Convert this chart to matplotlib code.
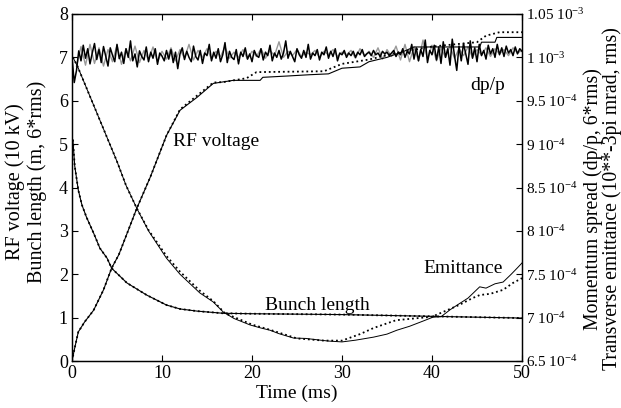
import numpy as np
import matplotlib
matplotlib.use('Agg')
import matplotlib.pyplot as plt

# --- data (left axis units; right axis = 6.5e-4 + 0.5e-4 * left) ---
rf_t = [0, 0.3, 0.7, 1.4, 2.4, 3.5, 4.4, 5.2, 7.2, 8.7, 10.5, 12, 13.9, 15.7, 17.9, 20.9, 21.2,
        23.9, 26.4, 28.5, 30, 32, 33, 35, 37, 38, 45.3, 45.5, 47, 47.2, 50]
rf_v = [0, 0.3, 0.67, 0.9, 1.17, 1.64, 2.14, 2.45, 3.52, 4.24, 5.2, 5.78, 6.08, 6.4, 6.47, 6.47, 6.54,
        6.57, 6.6, 6.62, 6.75, 6.78, 6.9, 7.0, 7.15, 7.24, 7.24, 7.35, 7.35, 7.46, 7.46]
rf2_t = [0, 0.3, 0.7, 1.4, 2.4, 3.5, 4.4, 5.2, 7.2, 8.7, 10.5, 12, 13.9, 15.7, 16.8, 19.4, 20.5,
         28, 30, 33, 36, 40, 45, 46, 47.5, 50]
rf2_v = [0, 0.3, 0.67, 0.9, 1.17, 1.64, 2.14, 2.45, 3.52, 4.24, 5.2, 5.8, 6.12, 6.42, 6.43, 6.52, 6.66,
         6.68, 6.85, 6.95, 7.1, 7.25, 7.35, 7.5, 7.58, 7.58]

bl_t = [0.1, 0.3, 0.7, 1.1, 1.6, 2.4, 3.1, 3.9, 4.4, 6.1, 8.3, 10.5, 12, 13.9, 16.8, 20, 30, 40, 50]
bl_v = [5.1, 4.5, 3.94, 3.6, 3.32, 2.95, 2.6, 2.37, 2.14, 1.8, 1.52, 1.29, 1.2, 1.15, 1.1, 1.09, 1.07, 1.03, 0.99]

em_t = [0.1, 0.6, 2, 4, 5, 6, 7.2, 8.5, 10.5, 12, 14.2, 15.7, 16.8, 18, 19.8, 21, 22, 23, 24.6, 26,
        27.6, 28.5, 30, 31.5, 33.5, 35, 36.1, 37.5, 39, 40.1, 41, 42, 42.8, 44, 45.3, 46, 47, 47.9,
        48.8, 49.5, 50]
em_v = [7.0, 6.8, 6.1, 5.1, 4.6, 4.05, 3.52, 3.0, 2.37, 2.0, 1.57, 1.36, 1.13, 0.98, 0.83, 0.76, 0.71,
        0.63, 0.53, 0.52, 0.48, 0.46, 0.44, 0.48, 0.55, 0.62, 0.71, 0.8, 0.92, 1.01, 1.02, 1.18, 1.29,
        1.45, 1.71, 1.68, 1.78, 1.82, 2.0, 2.15, 2.26]
em2_t = [0.1, 0.6, 2, 4, 5, 6, 7.2, 8.5, 10.5, 12, 14.2, 15.7, 17, 20, 22, 25, 28, 30, 32, 33.5, 36,
         38, 40, 42, 43, 44.5, 45.3, 46.5, 47.9, 49, 50]
em2_v = [7.0, 6.8, 6.1, 5.1, 4.6, 4.05, 3.52, 3.02, 2.42, 2.06, 1.62, 1.38, 1.1, 0.84, 0.72, 0.52, 0.47,
         0.47, 0.62, 0.76, 0.94, 0.98, 1.02, 1.2, 1.29, 1.45, 1.52, 1.55, 1.64, 1.8, 1.91]

dpp_v = [7.00, 6.42, 6.70,
         7.15, 6.92, 7.28, 6.98, 7.20, 6.85, 7.10, 7.32, 6.95, 7.18,
         6.88, 7.25, 7.02, 6.80, 7.22, 7.05, 6.90, 7.30, 6.97, 7.12,
         6.86, 7.20, 7.00, 7.38, 6.92, 7.08, 6.78, 7.15, 7.02, 6.94,
         7.24, 6.90, 7.12, 6.98, 7.20, 6.84, 7.10, 7.03, 6.92, 7.16,
         6.96, 7.18, 6.88, 7.12, 6.74, 7.08, 7.22, 6.95, 7.14, 7.00,
         6.90, 7.26, 7.02, 6.94, 7.16, 6.86, 7.10, 7.04, 7.30, 6.92,
         7.12, 6.98, 7.20, 6.90, 7.06, 7.34, 6.88, 7.14, 7.00, 6.95,
         7.18, 6.85, 7.12, 7.02, 7.22, 6.96, 7.08, 6.90, 7.16, 7.04,
         7.00, 7.20, 6.94, 7.12, 7.04, 7.28, 6.92, 7.10, 7.00, 7.16,
         6.96, 7.10, 7.38, 6.98, 7.14, 7.02, 6.90, 7.20, 7.06, 6.98,
         7.16, 7.00, 7.30, 6.96, 7.10, 7.04, 7.18, 6.94, 7.12, 7.06,
         7.24, 6.98, 7.14, 7.02, 7.20, 6.92, 7.10, 7.06, 7.16, 7.00,
         7.10, 7.04, 7.14, 7.00, 7.12, 7.06, 7.18, 7.02, 7.08, 7.12,
         7.04, 7.16, 7.06, 7.10, 7.02, 7.14, 7.08, 7.12, 7.04, 7.10,
         7.16, 7.02, 7.12, 7.06, 7.20, 7.00, 7.14, 7.08, 7.30, 6.96,
         7.22, 6.92, 7.18, 7.02, 7.40, 6.88, 7.16, 7.06, 7.28, 6.94,
         7.24, 6.86, 7.36, 7.00, 7.20, 6.82, 7.42, 7.04, 6.70, 7.26,
         6.92, 7.32, 7.08, 6.84, 7.38, 6.98, 7.22, 6.90, 7.30, 7.04,
         7.16, 6.96, 7.28, 7.08, 7.20, 7.00, 7.30, 7.06, 7.22, 7.02,
         7.26, 7.10, 7.18, 7.04, 7.24, 7.08, 7.20, 7.14]
dpp_t = np.concatenate([[0, 0.25, 0.5], np.arange(0.75, 50.01, 0.25)])

dpp2_v = [6.80, 7.25, 6.82, 7.30, 6.86, 7.22, 6.80, 7.18, 6.90, 7.28,
          6.84, 7.20, 6.92, 7.26, 6.88, 7.16, 6.94, 7.24, 6.90, 7.14,
          6.96, 7.22, 6.92, 7.18, 6.98, 7.30, 6.94, 7.16, 7.00, 7.20,
          6.96, 7.14, 7.02, 7.24, 6.98, 7.12, 7.00, 7.18, 6.96, 7.14,
          7.02, 7.20, 6.98, 7.16, 7.04, 7.36, 7.00, 7.14, 7.04, 7.18,
          7.02, 7.12, 7.06, 7.16, 7.00, 7.14, 7.06, 7.18, 7.02, 7.12,
          7.06, 7.16, 6.98, 7.20, 7.04, 7.14, 7.00, 7.22, 6.96, 7.18,
          7.02, 7.26, 6.94, 7.30, 6.90, 7.24, 6.92, 7.40, 6.96, 7.28,
          6.92, 7.22, 7.00, 7.26, 6.98, 7.20, 7.04, 7.24, 7.00, 7.18,
          7.06, 7.22, 7.02, 7.20, 7.08, 7.18, 7.04, 7.22, 7.10, 7.16]
dpp2_t = np.arange(0.5, 50.01, 0.5)

right_ticks = [6.5e-4, 7e-4, 7.5e-4, 8e-4, 8.5e-4, 9e-4, 9.5e-4, 1e-3, 1.05e-3]
right_labels = ['6.5 10$^{-4}$', '7 10$^{-4}$', '7.5 10$^{-4}$', '8 10$^{-4}$', '8.5 10$^{-4}$',
                '9 10$^{-4}$', '9.5 10$^{-4}$', '1 10$^{-3}$', '1.05 10$^{-3}$']

plt.rcParams['font.family'] = ['Liberation Serif', 'DejaVu Serif']
plt.rcParams['mathtext.fontset'] = 'custom'
plt.rcParams['mathtext.rm'] = 'Liberation Serif'
plt.rcParams['mathtext.it'] = 'Liberation Serif:italic'

fig = plt.figure(figsize=(6.21, 4.08), dpi=100)
ax = fig.add_axes([72 / 621, 1 - 361 / 408, 450 / 621, 347 / 408])

dots = (0, (1, 1.6))
ax.plot(dpp2_t, dpp2_v, color='#999999', lw=1.0)
ax.plot(dpp_t, dpp_v, color='black', lw=1.1)
ax.plot(rf2_t, rf2_v, color='black', lw=1.3, ls=dots)
ax.plot(rf_t, rf_v, color='black', lw=0.8)
ax.plot(bl_t, bl_v, color='black', lw=1.3, ls=dots)
ax.plot(bl_t, bl_v, color='black', lw=0.8)
ax.plot(em2_t, em2_v, color='black', lw=1.3, ls=dots)
ax.plot(em_t, em_v, color='black', lw=0.7)

ax.text(11.2, 5.05, 'RF voltage', fontsize=14, va='center')
ax.text(21.4, 1.29, 'Bunch length', fontsize=14, va='center')
ax.text(39.0, 2.14, 'Emittance', fontsize=14, va='center')
ax.text(44.2, 6.36, 'dp/p', fontsize=14, va='center')

ax.set_xlim(0, 50)
ax.set_ylim(0, 8)
ax.set_xticks([0, 10, 20, 30, 40, 50])
ax.set_yticks(range(9))
ax.tick_params(direction='in', top=True, right=False, length=4, width=0.8, labelsize=13, pad=3)
ax.set_xlabel('Time (ms)', fontsize=14, labelpad=2)
ax.set_ylabel('RF voltage (10 kV)\nBunch length (m, 6*rms)', fontsize=14.5,
              multialignment='center', linespacing=1.15)
ax.yaxis.set_label_coords(-0.056, 0.516)

ax2 = ax.twinx()
ax2.set_ylim(6.5e-4, 1.05e-3)
ax2.set_yticks(right_ticks)
ax2.set_yticklabels(right_labels)
ax2.tick_params(direction='in', length=4, width=0.8, labelsize=11, pad=3)
ax2.set_ylabel('Momentum spread (dp/p, 6*rms)\nTransverse emittance (10**-3pi mrad, rms)',
               fontsize=14.2, multialignment='center', linespacing=0.95)
ax2.yaxis.set_label_coords(1.137, 0.467)

for a in (ax, ax2):
    for s in a.spines.values():
        s.set_linewidth(0.9)

fig.savefig('out.png', dpi=100)
